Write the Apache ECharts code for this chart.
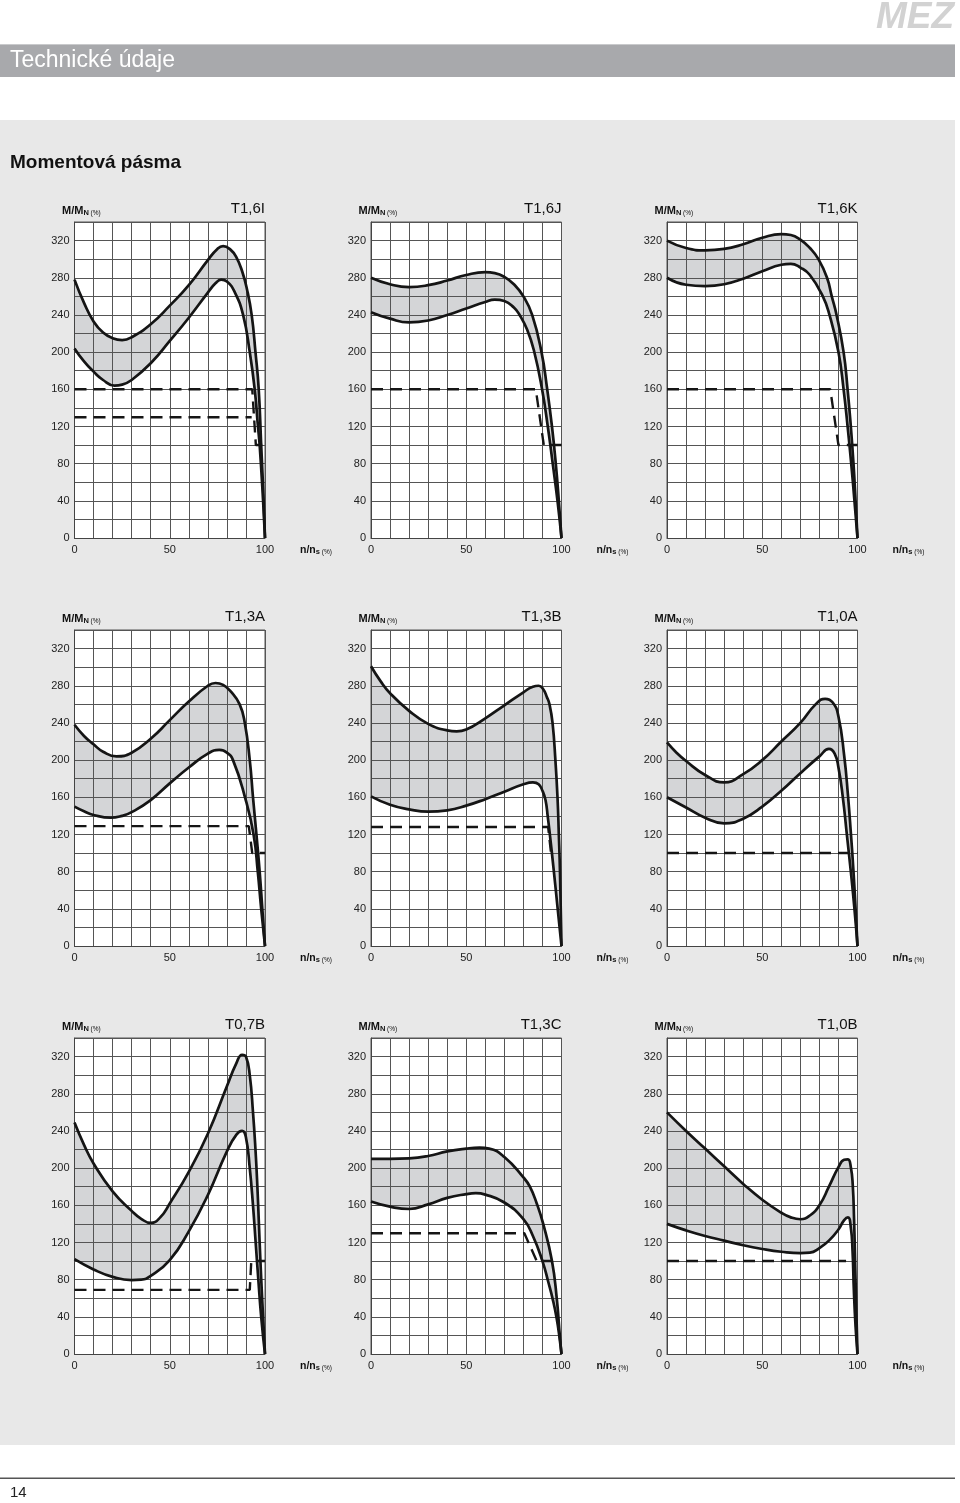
<!DOCTYPE html>
<html><head><meta charset="utf-8">
<script src="https://cdn.jsdelivr.net/npm/echarts@6/dist/echarts.min.js"></script>
<style>html,body{margin:0;padding:0;background:#fff}#c{width:960px;height:1503px}</style>
</head><body><div id="c"></div>
<script>
// ---- tick labels / names ----
const xTickLabels = [0, 50, 100];
const yTickLabels = [0, 40, 80, 120, 160, 200, 240, 280, 320];
const chartNames = ['T1,6I', 'T1,6J', 'T1,6K', 'T1,3A', 'T1,3B', 'T1,0A', 'T0,7B', 'T1,3C', 'T1,0B'];

// ---- data: [n/ns %, M/MN %] ----
const upper_T16I = [[0,278],[5,253],[10,233],[15,221],[20,215],[25,213],[30,216],[40,230],[50,250],[60,272],[70,299],[75,311],[78,314],[82,310],[85,302],[88,287],[90.5,268],[93,240],[95,200],[96.7,160],[98,100],[99.3,40],[100,0]];
const lower_T16I = [[0,204],[5,190],[10,179],[15,170],[21,164],[25,165],[30,170],[40,188],[50,212],[60,237],[70,264],[74,274],[77,278],[80,276],[84,265],[88.5,240],[92,200],[94.6,160],[96.3,120],[97.2,100],[99,40],[100,0]];
const load_T16I = [[0,160],[93.3,160],[95.2,100],[100,100]];
const load2_T16I = [[0,130],[93,130]];

const upper_T16J = [[0,280],[10,273],[20,270],[30,272],[40,277],[50,283],[60,286],[65,285],[70,281],[75,273],[80,260],[84.6,240],[89.5,200],[92.5,160],[95,120],[97,80],[98.6,40],[100,0]];
const lower_T16J = [[0,243],[10,236],[20,232],[30,234],[40,240],[50,247],[60,254],[65,256.5],[70,255],[75,248],[78,240],[82,224],[85.5,202],[89.8,160],[92.8,120],[95.4,80],[97.9,40],[100,0]];
const load_T16J = [[0,160],[86.5,160],[90.7,100],[100,100]];

const upper_T16K = [[0,320],[10,312],[20,309.5],[30,311],[40,316],[50,323],[60,327],[65,326],[70,321],[75,312],[79.5,300],[84,280],[86.5,260],[89,240],[92.7,200],[94.8,160],[96.5,120],[97.9,80],[99,40],[100,0]];
const lower_T16K = [[0,280],[10,272.5],[20,271],[30,273],[40,279],[50,287],[60,294],[65,295],[70,291],[75,283],[81.8,260],[85.3,240],[90,200],[92.7,160],[94.8,120],[96.7,80],[98.4,40],[100,0]];
const load_T16K = [[0,160],[85.7,160],[90,100],[100,100]];

const upper_T13A = [[0,238],[5,226],[10,217],[15,209],[22,204],[30,208],[40,223],[50,243],[60,263],[70,280],[74,283],[78,281],[82,274],[86.7,260],[89.4,240],[92,200],[93.7,160],[95.5,120],[97.2,80],[98.6,40],[100,0]];
const lower_T13A = [[0,150],[5,145],[10,141],[19,138],[25,140],[30,144],[40,157],[50,175],[60,192],[70,207],[76,211],[80,208],[83.2,200],[89.5,160],[94,120],[96.2,80],[98,40],[100,0]];
const load_T13A = [[0,129],[91.5,129],[93.3,100],[100,100]];

const upper_T13B = [[0,301],[5,285],[10,272],[20,253],[30,239],[40,232],[45,231],[50,233],[60,245],[70,259],[80,273],[85,279],[88,280],[90.5,276],[92.3,268],[93.7,260],[95.3,240],[96.8,200],[97.9,160],[98.6,120],[99.2,80],[100,0]];
const lower_T13B = [[0,161],[10,152],[20,147],[30,144.5],[40,146],[50,151],[60,158],[70,166],[80,174],[85,176],[88,174],[90,167],[91.6,157],[92.8,139],[94,118],[96,80],[98,40],[100,0]];
const load_T13B = [[0,128],[93,128],[94.5,100]];

const upper_T10A = [[0,219],[5,208],[10,199],[20,184],[30,176],[40,185],[50,200],[60,220],[70,240],[78,260],[83,266],[87,262],[90,247],[93,205],[95,162],[96.5,122],[97.9,80],[99,40],[100,0]];
const lower_T10A = [[0,160],[10,149],[20,138],[30,132],[40,137],[50,150],[60,167],[70,186],[80,204],[85,212],[88,207],[90,192],[92.3,160],[94.4,120],[96.5,80],[98.4,40],[100,0]];
const load_T10A = [[0,100],[100,100]];

const upper_T07B = [[0,249],[5,225],[10,205],[20,175],[30,154],[35,145.5],[40,141],[45,147],[50,162],[60,196],[70,237],[80,288],[85,313],[88,322],[90,320],[92,300],[93.7,260],[95,220],[96,180],[96.8,140],[97.6,100],[98.5,60],[100,0]];
const lower_T07B = [[0,102],[10,91],[20,83],[30,79.5],[35,80],[40,84],[50,101],[60,132],[70,171],[80,218],[85,236],[88,240],[90,233],[92,200],[93.7,160],[95.1,120],[96.5,80],[98,40],[100,0]];
const load_T07B = [[0,69],[92,69],[92.8,100],[100,100]];

const upper_T13C = [[0,210],[10,210],[20,210.5],[30,213],[40,218],[50,221],[57,222],[62,221],[70,212],[80,190],[83.4,180],[87,162],[90.4,140],[95,100],[97.5,60],[99.1,20],[100,0]];
const lower_T13C = [[0,164],[10,158.5],[20,156],[30,161],[40,168],[50,172],[55,173],[60,171.5],[70,163],[80,145],[85,127],[90,100],[93,78],[95.5,58],[97.5,38],[99,17],[100,0]];
const load_T13C = [[0,130],[80.5,130],[87,100],[95,100]];

const upper_T10B = [[0,260],[10,240],[20,221],[30,202],[40,183],[50,166],[60,152],[65,147],[70,145],[75,149],[80,160],[85,180],[90,201],[93,209],[95,209.5],[96.5,201],[97.5,182],[98.2,145],[98.8,95],[99.4,45],[100,0]];
const lower_T10B = [[0,140],[10,133],[20,127],[30,122],[40,117],[50,113],[60,110],[70,108.5],[75,109],[80,114],[85,122],[90,134],[93,144],[95,147],[96.5,136],[97.4,111],[98.1,68],[99,29],[100,0]];
const load_T10B = [[0,100],[94,100]];

const uppers = [upper_T16I, upper_T16J, upper_T16K, upper_T13A, upper_T13B, upper_T10A, upper_T07B, upper_T13C, upper_T10B];
const lowers = [lower_T16I, lower_T16J, lower_T16K, lower_T13A, lower_T13B, lower_T10A, lower_T07B, lower_T13C, lower_T10B];
const loads = [[load_T16I, load2_T16I], [load_T16J], [load_T16K], [load_T13A], [load_T13B], [load_T10A], [load_T07B], [load_T13C], [load_T10B]];

// ---- layout ----
const FF = 'Liberation Sans, Arial, Helvetica, sans-serif';
const colLeft = [74.5, 371, 667];
const rowTop = [222, 630, 1038];
const W = 190.5, H = 316;
const GRIDC = '#555';

const grids = [], xAxes = [], yAxes = [], series = [], graphics = [];

// page decorations
graphics.push(
  {type:'rect', shape:{x:0, y:120, width:955, height:1325}, style:{fill:'#e8e8e8'}, z:-10},
  {type:'rect', shape:{x:0, y:44, width:955, height:33}, style:{fill:'#a8a9ac'}, z:-10},
  {type:'rect', shape:{x:0, y:44, width:955, height:1}, style:{fill:'#c9cacc'}, z:-9},
  {type:'text', x:10, y:61, style:{text:'Technické údaje', fill:'#fff', font:'23px ' + FF, verticalAlign:'middle', align:'left'}},
  {type:'text', x:954, y:18, style:{text:'MEZ', fill:'#d2d2d2', font:'italic bold 37px ' + FF, verticalAlign:'middle', align:'right'}},
  {type:'text', x:10, y:163, style:{text:'Momentová pásma', fill:'#111', font:'bold 19px ' + FF, verticalAlign:'middle', align:'left'}},
  {type:'rect', shape:{x:0, y:1477.5, width:955, height:1.5}, style:{fill:'#555'}},
  {type:'text', x:10, y:1493, style:{text:'14', fill:'#222', font:'15px ' + FF, verticalAlign:'middle', align:'left'}}
);

for (let i = 0; i < 9; i++) {
  const r = Math.floor(i / 3), c = i % 3;
  const L = colLeft[c], T = rowTop[r];
  grids.push({left:L, top:T, width:W, height:H, show:true, backgroundColor:'#ffffff', borderColor:GRIDC, borderWidth:1});
  xAxes.push({
    gridIndex:i, type:'value', min:0, max:100, interval:10, z:2,
    axisLine:{show:true, onZero:false, lineStyle:{color:'#444', width:1}},
    axisTick:{show:false},
    splitLine:{show:true, showMinLine:true, showMaxLine:true, lineStyle:{color:GRIDC, width:1}},
    axisLabel:{formatter:(v) => xTickLabels.includes(v) ? String(v) : '', margin:6, fontSize:11, color:'#222', fontFamily:FF, showMinLabel:true, showMaxLabel:true}
  });
  yAxes.push({
    gridIndex:i, type:'value', min:0, max:340, interval:20, z:2,
    axisLine:{show:true, onZero:false, lineStyle:{color:'#444', width:1}},
    axisTick:{show:false},
    splitLine:{show:true, showMinLine:true, showMaxLine:true, lineStyle:{color:GRIDC, width:1}},
    axisLabel:{formatter:(v) => yTickLabels.includes(v) ? String(v) : '', margin:5, fontSize:11, color:'#222', fontFamily:FF, padding:[0,0,8,0]}
  });
  const base = {type:'line', xAxisIndex:i, yAxisIndex:i, symbol:'none', silent:true, animation:false};
  series.push(Object.assign({}, base, {data:uppers[i], smooth:0.5, z:1, lineStyle:{width:0, opacity:0}, areaStyle:{color:'#d4d5d7', opacity:1}}));
  series.push(Object.assign({}, base, {data:lowers[i], smooth:0.5, z:1.5, lineStyle:{width:0, opacity:0}, areaStyle:{color:'#ffffff', opacity:1}}));
  series.push(Object.assign({}, base, {data:uppers[i], smooth:0.5, z:3, lineStyle:{color:'#151515', width:2.7}}));
  series.push(Object.assign({}, base, {data:lowers[i], smooth:0.5, z:3, lineStyle:{color:'#151515', width:2.7}}));
  loads[i].forEach(ld => {
    series.push(Object.assign({}, base, {data:ld, smooth:false, z:3, lineStyle:{color:'#151515', width:2.4, type:[12,7]}}));
  });
  // chart texts
  graphics.push(
    {type:'text', x:L - 12.5, y:T - 11, style:{text:'{a|M/M}{b|N}{c| (%)}', verticalAlign:'middle', align:'left',
      rich:{a:{font:'bold 11px ' + FF, fill:'#111', lineHeight:12},
            b:{font:'bold 7.5px ' + FF, fill:'#111', verticalAlign:'bottom', lineHeight:9},
            c:{font:'6.5px ' + FF, fill:'#111', verticalAlign:'bottom', lineHeight:9}}}},
    {type:'text', x:L + W, y:T - 13, style:{text:chartNames[i], verticalAlign:'middle', align:'right', font:'15px ' + FF, fill:'#111'}},
    {type:'text', x:L + W + 35, y:T + H + 12, style:{text:'{a|n/n}{b|s}{c| (%)}', verticalAlign:'middle', align:'left',
      rich:{a:{font:'bold 10.5px ' + FF, fill:'#111', lineHeight:12},
            b:{font:'bold 7.5px ' + FF, fill:'#111', verticalAlign:'bottom', lineHeight:9},
            c:{font:'6.5px ' + FF, fill:'#111', verticalAlign:'bottom', lineHeight:9}}}}
  );
}

const chart = echarts.init(document.getElementById('c'), null, {renderer:'canvas', width:960, height:1503});
chart.setOption({
  animation:false,
  backgroundColor:'#ffffff',
  textStyle:{fontFamily:FF},
  grid:grids, xAxis:xAxes, yAxis:yAxes, series:series, graphic:graphics
});
</script>
</body></html>
